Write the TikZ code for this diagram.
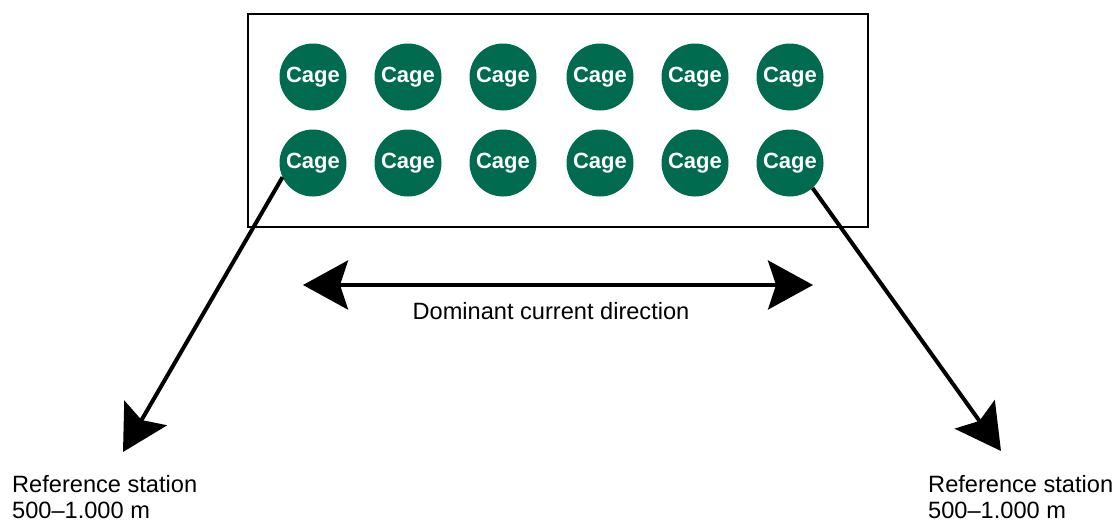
\documentclass[tikz,border=0pt]{standalone}
\usepackage{fontspec}
\setmainfont{Liberation Sans}
\usetikzlibrary{positioning,arrows.meta}
\definecolor{cagegreen}{RGB}{0,107,79}

\begin{document}
\begin{tikzpicture}[
  x=1pt,y=-1pt,
  cage/.style={circle,fill=cagegreen,minimum size=67pt,inner sep=0pt,
               text=white,font=\fontsize{22}{24}\selectfont\bfseries},
  pen/.style={draw=black,line width=2pt,minimum width=620pt,minimum height=213pt,inner sep=0pt},
  lbl/.style={align=left,font=\fontsize{23.6}{25.5}\selectfont,inner sep=0pt},
  arr/.style={-{Stealth[length=45pt,width=49pt,inset=8pt]},line width=4pt,black},
  darr/.style={{Stealth[length=45pt,width=49pt,inset=8pt]}-{Stealth[length=45pt,width=49pt,inset=8pt]},line width=4pt,black},
]
\useasboundingbox (0,0) rectangle (1115,522);

% ---- net pen with two rows of cages ----
\node[pen] (farm) at (558,120.5) {};
\foreach \i/\x in {1/313,2/408,3/503,4/600,5/695,6/790} {
  \node[cage] (c1\i) at (\x,77) {Cage};
  \node[cage] (c2\i) at (\x,163) {Cage};
}

% ---- current ----
\coordinate (curl) at (303,285);
\coordinate (curr) at (813,285);
\draw[darr] (curl) -- (curr);
\node[lbl,anchor=base] (curlbl) at (551,319) {Dominant current direction};

% ---- reference stations ----
\coordinate (ltip) at (123,452);
\coordinate (rtip) at (1001,451);
\node[lbl,anchor=base west] (lsta) at (12,518) {Reference station\\500--1.000 m};
\node[lbl,anchor=base west] (rsta) at (928,518) {Reference station\\500--1.000 m};
\draw[arr] (c21.205) -- (ltip);
\draw[arr] (c26.-48) -- (rtip);
\end{tikzpicture}
\end{document}
